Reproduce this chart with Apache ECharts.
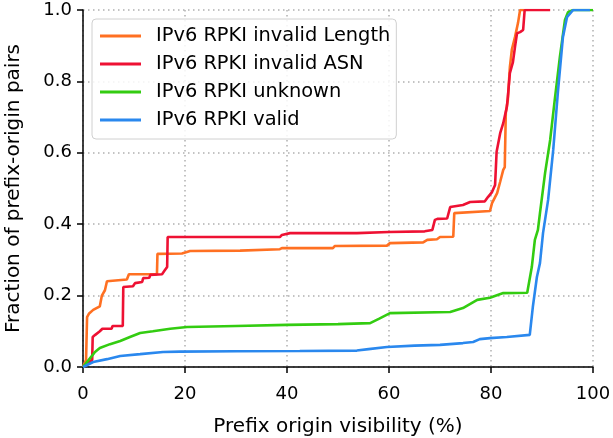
<!DOCTYPE html>
<html>
<head>
<meta charset="utf-8">
<script src="https://cdn.jsdelivr.net/npm/echarts@6/dist/echarts.min.js"></script>
<style>
html,body{margin:0;padding:0;background:#fff;}
#chart{width:613px;height:438px;}
</style>
</head>
<body>
<div id="chart"></div>
<script>
// ---- data (x = prefix origin visibility %, y = fraction) ----
const seriesNames = ['IPv6 RPKI invalid Length', 'IPv6 RPKI invalid ASN', 'IPv6 RPKI unknown', 'IPv6 RPKI valid'];
const xTicks = [0, 20, 40, 60, 80, 100];
const yTicks = [0.0, 0.2, 0.4, 0.6, 0.8, 1.0];

const invalidLength = [[0,0],[0.6,0.02],[0.8,0.14],[1.2,0.15],[2.0,0.16],[3.3,0.17],[3.7,0.2],[4.3,0.215],[4.7,0.24],[8.6,0.245],[9.0,0.26],[14.5,0.26],[14.6,0.317],[19.4,0.318],[19.6,0.322],[21,0.325],[30.8,0.326],[31,0.329],[38.6,0.33],[39,0.333],[49,0.333],[49.4,0.339],[59.6,0.34],[60.2,0.347],[66.7,0.349],[67.5,0.356],[69.4,0.358],[70,0.364],[72.6,0.365],[72.8,0.431],[79.8,0.437],[80.2,0.459],[81.2,0.487],[81.8,0.519],[82.4,0.552],[82.7,0.56],[82.9,0.711],[83.3,0.748],[83.7,0.84],[84.1,0.89],[84.7,0.924],[85.3,0.964],[85.7,1.0],[86.5,1.0]];

const invalidASN = [[0,0],[1.8,0.02],[1.9,0.084],[2.4,0.09],[3.3,0.1],[3.8,0.107],[5.6,0.107],[5.8,0.115],[7.8,0.115],[7.9,0.224],[9.8,0.226],[10.2,0.235],[11.6,0.238],[11.8,0.249],[13.0,0.25],[13.2,0.258],[15.5,0.26],[16.0,0.27],[16.5,0.28],[16.6,0.364],[38.6,0.364],[39,0.37],[40.6,0.375],[53.7,0.375],[60,0.378],[67,0.38],[68.5,0.384],[69,0.412],[69.5,0.415],[71.4,0.416],[72,0.448],[74.5,0.454],[75.9,0.462],[78.8,0.464],[79.4,0.476],[80.2,0.49],[80.8,0.51],[81.0,0.515],[81.1,0.603],[81.4,0.608],[81.8,0.655],[82.4,0.683],[83.1,0.728],[83.3,0.756],[83.7,0.823],[84.3,0.854],[84.7,0.896],[85.1,0.935],[85.7,0.938],[86.3,0.944],[86.6,1.0],[91.6,1.0]];

const unknownPairs = [[0,0],[1.4,0.025],[2.35,0.042],[3.3,0.053],[5.3,0.064],[7.3,0.073],[9.2,0.084],[11.2,0.095],[13.7,0.1],[17.1,0.107],[20.4,0.112],[30,0.115],[40,0.118],[50,0.12],[56.3,0.123],[58,0.135],[60.2,0.151],[72,0.154],[74.5,0.165],[77.3,0.188],[79.8,0.194],[82.4,0.207],[87.1,0.208],[88.0,0.28],[88.6,0.356],[89.2,0.384],[89.6,0.431],[90.6,0.543],[91.6,0.636],[92.5,0.748],[93.5,0.868],[94.5,0.972],[95.1,0.994],[96.1,1.0],[100,1.0]];

const validPairs = [[0,0],[2,0.014],[4.7,0.022],[7.3,0.031],[11.2,0.036],[15.7,0.042],[19,0.043],[30,0.044],[42.5,0.045],[53.7,0.046],[56,0.05],[59.6,0.056],[65,0.06],[70,0.062],[74.5,0.067],[76.5,0.07],[77.8,0.078],[79.8,0.081],[83.1,0.084],[87.6,0.09],[88.2,0.168],[89,0.252],[89.6,0.291],[90.2,0.375],[91.2,0.468],[92.2,0.608],[93.1,0.767],[94.1,0.924],[94.9,0.98],[96.1,1.0],[99.4,1.0]];

const colors = ['#ff7022', '#ee1133', '#33cc11', '#2a88ee'];
const allData = [invalidLength, invalidASN, unknownPairs, validPairs];

const FONT = 'DejaVu Sans';
const chart = echarts.init(document.getElementById('chart'), null, {renderer: 'canvas'});

const option = {
  animation: false,
  backgroundColor: '#fff',
  grid: {left: 83, right: 20, top: 10, bottom: 71, containLabel: false, outerBoundsMode: 'none'},
  legend: {
    orient: 'vertical',
    left: 92, top: 19,
    data: seriesNames,
    icon: 'rect',
    itemWidth: 41, itemHeight: 3,
    itemGap: 8,
    padding: [7, 6, 9, 8],
    borderColor: '#d0d0d0', borderWidth: 1, borderRadius: 4,
    backgroundColor: 'rgba(255,255,255,0.85)',
    textStyle: {fontFamily: FONT, fontSize: 19.4, color: '#000', lineHeight: 20, padding: [0, 0, 0, 10]}
  },
  xAxis: {
    type: 'value', min: 0, max: 100, interval: 20,
    name: 'Prefix origin visibility (%)', nameLocation: 'middle', nameGap: 50,
    nameTextStyle: {fontFamily: FONT, fontSize: 20, color: '#000'},
    axisLine: {onZero: false, lineStyle: {color: '#000', width: 1.5}},
    axisTick: {show: true, length: 6, lineStyle: {color: '#000', width: 1.5}},
    axisLabel: {fontFamily: FONT, fontSize: 18, color: '#000', margin: 18,
      formatter: v => xTicks.includes(v) ? String(v) : ''},
    splitLine: {show: true, lineStyle: {color: '#b0b0b0', type: [1.5, 3.5], width: 1.5}}
  },
  yAxis: {
    type: 'value', min: 0, max: 1, interval: 0.2,
    name: 'Fraction of prefix-origin pairs', nameLocation: 'middle', nameGap: 59, nameRotate: 90,
    nameTextStyle: {fontFamily: FONT, fontSize: 20, color: '#000'},
    axisLine: {show: true, lineStyle: {color: '#000', width: 1.5}},
    axisTick: {show: true, length: 6, lineStyle: {color: '#000', width: 1.5}},
    axisLabel: {fontFamily: FONT, fontSize: 18, color: '#000', margin: 11,
      formatter: v => v.toFixed(1)},
    splitLine: {show: true, lineStyle: {color: '#b0b0b0', type: [1.5, 3.5], width: 1.5}}
  },
  series: seriesNames.map((name, i) => ({
    name: name,
    type: 'line',
    data: allData[i],
    showSymbol: false,
    symbol: 'none',
    color: colors[i],
    lineStyle: {width: 2.6, color: colors[i]},
    itemStyle: {color: colors[i]},
    emphasis: {disabled: true},
    z: 2 + i
  }))
};
chart.setOption(option);
</script>
</body>
</html>
